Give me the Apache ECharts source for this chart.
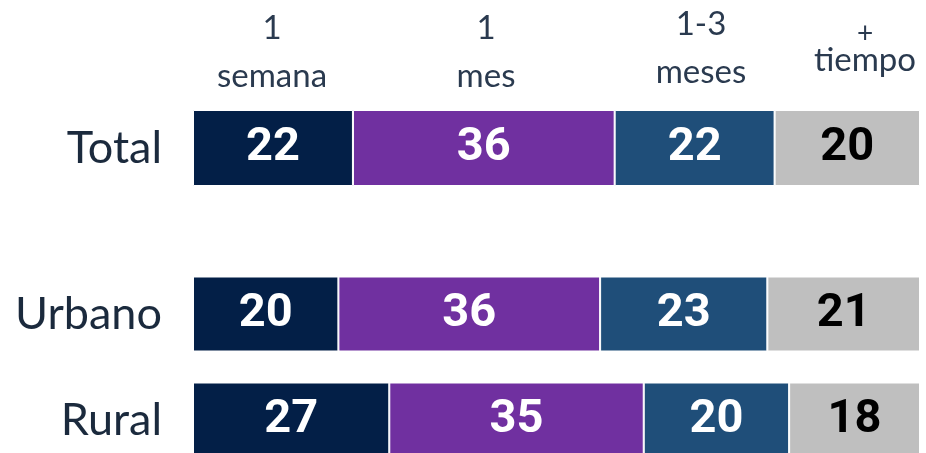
<!DOCTYPE html>
<html>
<head>
<meta charset="utf-8">
<script src="https://cdn.jsdelivr.net/npm/echarts@6/dist/echarts.min.js"></script>
<style>html,body{margin:0;padding:0;background:#fff;overflow:hidden;}#c{width:926px;height:490px;}</style>
</head>
<body>
<div id="c"></div>
<script>
const topCategories = ['Total'];
const bottomCategories = ['Urbano', 'Rural'];
const seriesNames = ['1 semana', '1 mes', '1-3 meses', '+ tiempo'];
const headerLines = [['1', 'semana'], ['1', 'mes'], ['1-3', 'meses'], ['+', 'tiempo']];
const totalValues = [[22], [36], [22], [20]];
const areaValues = [[20, 27], [36, 35], [23, 20], [21, 18]];
const colors = ['#031f47', '#7030a0', '#1f4e79', '#bfbfbf'];
const labelColors = ['#ffffff', '#ffffff', '#ffffff', '#000000'];

const chart = echarts.init(document.getElementById('c'));

const yAxisCommon = {
  type: 'category', inverse: true,
  axisLine: {show: false}, axisTick: {show: false}, splitLine: {show: false},
  axisLabel: {fontFamily: 'Lato', fontSize: 45, color: '#1b2a3d', margin: 31}
};
const xAxisCommon = {type: 'value', min: 0, max: 100, show: false};

const series = [];
seriesNames.forEach((n, i) => {
  const base = {
    name: n, type: 'bar', stack: 's', barWidth: 76,
    itemStyle: {color: colors[i], borderColor: '#ffffff', borderWidth: 1},
    label: {show: true, position: 'inside', fontFamily: 'Roboto', fontWeight: 'bold', fontSize: 47, color: labelColors[i]}
  };
  series.push(Object.assign({}, base, {xAxisIndex: 0, yAxisIndex: 0, data: totalValues[i]}));
  series.push(Object.assign({}, base, {name: n + ' ', stack: 's2', barWidth: 75, xAxisIndex: 1, yAxisIndex: 1, data: areaValues[i]}));
});

const headerX = [272, 486, 701, 865];
const headerY = [[28, 76], [28, 76], [24, 72], [34, 60]];
const graphic = [];
headerLines.forEach((lines, i) => {
  lines.forEach((t, j) => {
    graphic.push({type: 'text', x: headerX[i], y: headerY[i][j], style: {
      text: t, fontFamily: 'Lato', fontSize: (i === 3 && j === 0) ? 28 : 33, fill: '#2a3a4f', align: 'center', verticalAlign: 'middle'
    }});
  });
});

chart.setOption({
  animation: false,
  backgroundColor: '#ffffff',
  grid: [
    {left: 193, right: 6, top: 110, height: 76},
    {left: 193, right: 6, top: 261, height: 212}
  ],
  xAxis: [Object.assign({gridIndex: 0}, xAxisCommon), Object.assign({gridIndex: 1}, xAxisCommon)],
  yAxis: [
    Object.assign({gridIndex: 0, data: topCategories}, yAxisCommon),
    Object.assign({gridIndex: 1, data: bottomCategories}, yAxisCommon)
  ],
  series: series,
  graphic: graphic
});
</script>
</body>
</html>
